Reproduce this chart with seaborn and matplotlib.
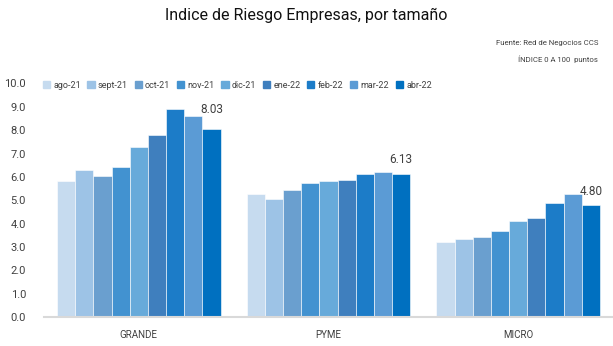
import matplotlib
matplotlib.use("Agg")
import matplotlib.pyplot as plt
import seaborn as sns
import pandas as pd

categories = ["GRANDE", "PYME", "MICRO"]
months = ["ago-21", "sept-21", "oct-21", "nov-21", "dic-21",
          "ene-22", "feb-22", "mar-22", "abr-22"]
grande = [5.84, 6.28, 6.05, 6.42, 7.26, 7.78, 8.92, 8.59, 8.03]
pyme = [5.27, 5.04, 5.44, 5.73, 5.83, 5.85, 6.14, 6.20, 6.13]
micro = [3.21, 3.33, 3.42, 3.68, 4.13, 4.23, 4.87, 5.27, 4.80]
colors = ["#C6DBEF", "#9DC3E6", "#6A9FCF", "#4292D0", "#67AADA",
          "#3F7FBE", "#1C7CC8", "#5B9BD5", "#0070C0"]

rows = []
for cat, vals in zip(categories, [grande, pyme, micro]):
    for m, v in zip(months, vals):
        rows.append({"tamaño": cat, "mes": m, "valor": v})
df = pd.DataFrame(rows)

sns.set_theme(style="white")
plt.rcParams["font.family"] = ["Roboto", "DejaVu Sans"]

fig = plt.figure(figsize=(6.13, 3.46), dpi=100)
ax = fig.add_axes([44 / 613, 1 - 317.3 / 346, 569 / 613, (317.3 - 83.3) / 346])

sns.barplot(data=df, x="tamaño", y="valor", hue="mes", order=categories,
            hue_order=months, palette=colors, width=0.863, gap=0,
            edgecolor="white", linewidth=0.4, saturation=1, ax=ax,
            legend=False)

ax.set_xlim(-0.5, 2.5)
ax.set_ylim(0, 10)
ax.set_yticks([i for i in range(11)])
ax.set_yticklabels([f"{i:.1f}" for i in range(11)], fontsize=8, color="#404040")
ax.tick_params(axis="y", length=0, pad=13)
ax.tick_params(axis="x", length=0, pad=9, labelsize=7, labelcolor="#404040")
ax.set_xlabel("")
ax.set_ylabel("")
for s in ["top", "right", "left"]:
    ax.spines[s].set_visible(False)
ax.spines["bottom"].set_color("#D9D9D9")
ax.spines["bottom"].set_linewidth(1.5)

# value labels on the latest month of each group
last_vals = [grande[-1], pyme[-1], micro[-1]]
offsets = [14.5, 10, 10]
container = ax.containers[-1]
for bar, v, off in zip(container, last_vals, offsets):
    ax.annotate(f"{v:.2f}", (bar.get_x() + bar.get_width() / 2, v),
                xytext=(0, off), textcoords="offset points",
                ha="center", va="center", fontsize=8.5, color="#404040")

# legend
handles = [plt.Rectangle((0, 0), 1, 1, color=c) for c in colors]
fig.legend(handles, months, loc="center left", bbox_to_anchor=(40 / 613, 1 - 85 / 346),
           ncol=9, frameon=False, fontsize=6.5, handlelength=0.8, handleheight=0.8,
           handletextpad=0.35, columnspacing=0.75, labelcolor="#404040",
           borderaxespad=0, borderpad=0.3)

fig.text(0.5, 1 - 15 / 346, "Indice de Riesgo Empresas, por tamaño",
         ha="center", va="center", fontsize=11.5, color="#111111")
fig.text(598 / 613, 1 - 43 / 346, "Fuente: Red de Negocios CCS",
         ha="right", va="center", fontsize=5.6, color="#404040")
fig.text(598 / 613, 1 - 59 / 346, "ÍNDICE 0 A 100  puntos",
         ha="right", va="center", fontsize=5.6, color="#404040")

fig.savefig("out.png", dpi=100)
